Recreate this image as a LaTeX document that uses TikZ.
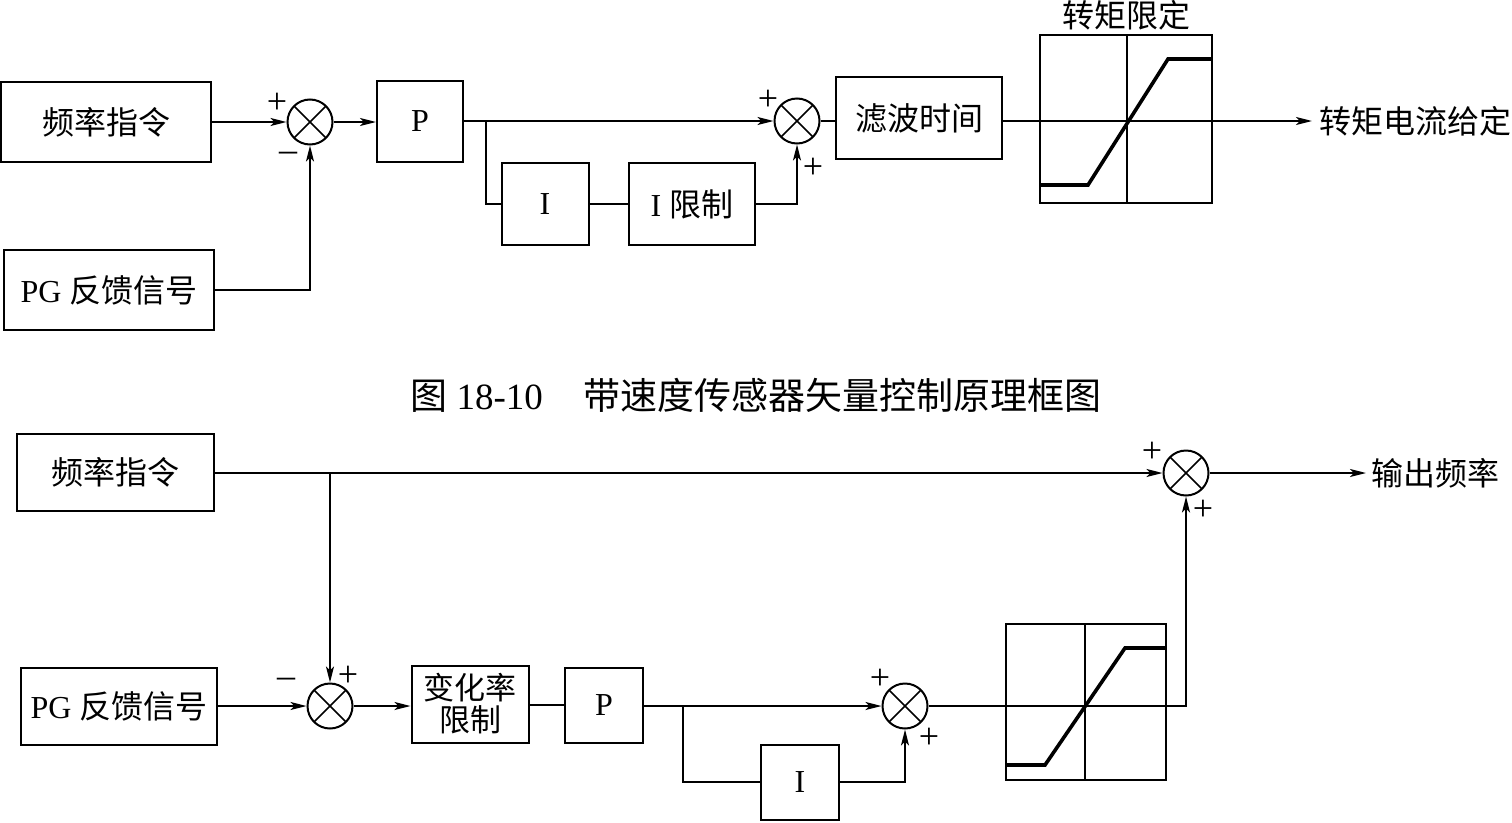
\documentclass[tikz,border=0pt]{standalone}
\usepackage{fontspec}
\setmainfont{Liberation Serif}
\newfontfamily\cjk{Noto Sans CJK SC}
\usetikzlibrary{arrows.meta}
\newcommand\zh[1]{{\cjk #1}}
\begin{document}
\begin{tikzpicture}[x=1pt,y=-1pt,
  line width=2pt,
  blk/.style={draw, line width=2pt, inner sep=0pt, align=center, font=\fontsize{32}{36}\selectfont},
  lbl/.style={inner sep=1pt, font=\fontsize{32}{36}\selectfont},
  sgn/.style={inner sep=0pt, font=\fontsize{36}{36}\selectfont},
  sumn/.style={draw, circle, line width=2pt, minimum size=45pt, inner sep=0pt,
    path picture={\draw[line width=1.5pt] (path picture bounding box.north west)--(path picture bounding box.south east)
      (path picture bounding box.north east)--(path picture bounding box.south west);}},
  arr/.style={-{Stealth[length=16pt,width=8pt,inset=4pt]}},
  curve/.style={line width=3.6pt},
  axis/.style={line width=1.5pt}]
\useasboundingbox (0,0) rectangle (1512,822);
% ---------- top diagram ----------
\node[blk, minimum width=210, minimum height=80] (f1) at (106,122) {\zh{频率指令}};
\node[sumn] (s1) at (310,122) {};
\node[sgn] (s1p) at (277,103) {+};
\node[sgn] (s1m) at (288,157) {–};
\node[blk, minimum width=86, minimum height=81] (p1) at (420,121) {P};
\node[blk, minimum width=210, minimum height=80] (pg1) at (109,290) {PG \zh{反馈信号}};
\node[blk, minimum width=87, minimum height=82] (i1) at (545,204) {I};
\node[blk, minimum width=126, minimum height=82] (il1) at (692,204) {I \zh{限制}};
\node[sumn] (s2) at (797,121) {};
\node[sgn] (s2a) at (768,100) {+};
\node[sgn] (s2b) at (813,168) {+};
\node[blk, minimum width=166, minimum height=82] (lb) at (919,118) {\zh{滤波时间}};
\node[draw, line width=2pt, minimum width=172, minimum height=168, inner sep=0pt] (sat1) at (1126,119) {};
\node[lbl, anchor=south, inner sep=3pt] (sat1t) at (sat1.north) {\zh{转矩限定}};
\node[lbl, anchor=west, inner sep=0pt] (out1) at (1318,121) {\zh{转矩电流给定}};
\coordinate (b1) at (486,121);
\draw[arr] (f1.east |- s1) -- (s1.west);
\draw[arr] (pg1.east) -| (s1.south);
\draw[arr] (s1.east) -- (p1.west |- s1);
\draw[arr] (p1.east |- s2) -- (s2.west);
\draw (b1) |- (i1.west);
\draw (i1.east) -- (il1.west);
\draw[arr] (il1.east) -| (s2.south);
\draw (s2.east) -- (lb.west |- s2);
\draw[arr] (lb.east |- s2) -- ([xshift=-6pt]out1.west);
\draw[axis] (1127,35) -- (1127,203);
\draw[curve] (1040,185) -- (1088,185) -- (1168,59) -- (1212,59);
% ---------- caption ----------
\node[inner sep=0pt, font=\fontsize{37}{42}\selectfont] (cap) at (756,395) {\zh{图} 18-10\hspace{1.1em}\zh{带速度传感器矢量控制原理框图}};
% ---------- bottom diagram ----------
\node[blk, minimum width=197, minimum height=77] (f2) at (115,472) {\zh{频率指令}};
\node[sumn] (s4) at (1186,473) {};
\node[sgn] (s4a) at (1152,452) {+};
\node[sgn] (s4b) at (1203,510) {+};
\node[lbl, anchor=west, inner sep=0pt] (out2) at (1370,473) {\zh{输出频率}};
\node[blk, minimum width=196, minimum height=77] (pg2) at (119,706) {PG \zh{反馈信号}};
\node[sumn] (s3) at (330,706) {};
\node[sgn] (s3m) at (286,683) {–};
\node[sgn] (s3p) at (348,676) {+};
\node[blk, minimum width=117, minimum height=77, font=\fontsize{31}{32}\selectfont] (rl) at (470,704) {\zh{变化率}\\\zh{限制}};
\node[blk, minimum width=78, minimum height=75] (p2) at (604,705) {P};
\node[sumn] (s5) at (905,706) {};
\node[sgn] (s5a) at (880,679) {+};
\node[sgn] (s5b) at (929,738) {+};
\node[blk, minimum width=78, minimum height=75] (i2) at (800,782) {I};
\node[draw, line width=2pt, minimum width=160, minimum height=156, inner sep=0pt] (sat2) at (1086,702) {};
\coordinate (b2) at (330,473);
\coordinate (b3) at (683,706);
\coordinate (c4) at (1186,706);
\draw[arr] (f2.east |- s4) -- (s4.west);
\draw[arr] (s4.east) -- ([xshift=-4pt]out2.west);
\draw[arr] (b2) -- (s3.north);
\draw[arr] (pg2.east |- s3) -- (s3.west);
\draw[arr] (s3.east) -- (rl.west |- s3);
\draw (rl.east |- p2) -- (p2.west);
\draw[arr] (p2.east |- s5) -- (s5.west);
\draw (b3) |- (i2.west);
\draw[arr] (i2.east) -| (s5.south);
\draw[arr] (s5.east) -- (c4) -- (s4.south);
\draw[axis] (1085,624) -- (1085,780);
\draw[curve] (1006,765) -- (1045,765) -- (1125,648) -- (1166,648);
\end{tikzpicture}
\end{document}
